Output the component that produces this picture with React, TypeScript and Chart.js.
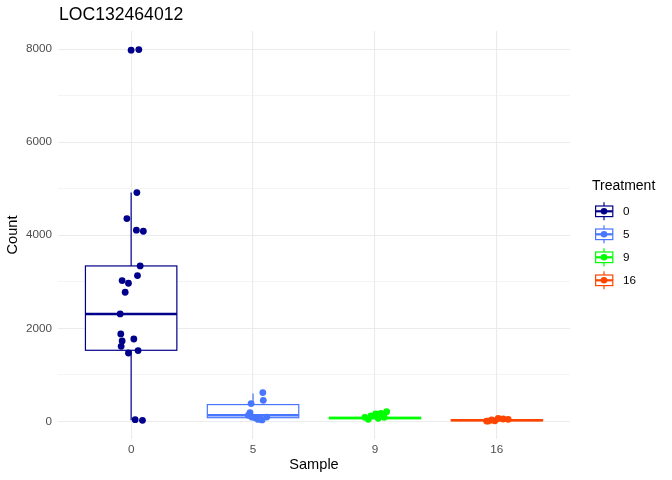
import { useEffect, useRef } from "react";
import { Chart, registerables } from "chart.js";

Chart.register(...registerables);

const chartTitle = "LOC132464012";
const xTitle = "Sample";
const yTitle = "Count";
const legendTitle = "Treatment";
const samples = ["0", "5", "9", "16"];
const treatments = ["0", "5", "9", "16"];
const colors = ["#00008B", "#4876FF", "#00FF00", "#FF4500"];

const yMajorTicks = [0, 2000, 4000, 6000, 8000];
const yAllTicks = [0, 1000, 2000, 3000, 4000, 5000, 6000, 7000, 8000];

// box statistics per sample
const q1 = [1527, 78, 58, 14];
const medians = [2308, 130, 70, 24];
const q3 = [3340, 360, 84, 34];
const whiskerLow = [21, 30, 43, 5];
const whiskerHigh = [4918, 600, 100, 50];
const outliers0 = [7978];

// jittered observations
const counts0 = [7990, 4918, 4359, 4108, 4086, 3340, 3133, 3025, 2968, 2774, 2308, 1878, 1770, 1727, 1613, 1520, 1469, 36, 21];
const jitter0 = [0.063, 0.047, -0.035, 0.043, 0.1, 0.074, 0.052, -0.074, -0.022, -0.049, -0.09, -0.085, 0.022, -0.074, -0.082, 0.057, -0.022, 0.033, 0.093];
const counts5 = [617, 452, 381, 187, 129, 92, 58, 75, 92, 40, 30];
const jitter5 = [0.08, 0.084, -0.016, -0.025, -0.039, -0.011, 0.057, 0.016, 0.112, 0.041, 0.074];
const counts9 = [86, 114, 157, 172, 208, 86, 43, 65];
const jitter9 = [-0.082, -0.033, 0.006, 0.049, 0.096, 0.076, -0.055, 0.027];
const counts16 = [6, 28, 65, 50, 43, 5, 10];
const jitter16 = [-0.084, -0.043, 0.011, 0.052, 0.093, -0.071, -0.016];

const groupCounts = [counts0, counts5, counts9, counts16];
const groupJitter = [jitter0, jitter5, jitter9, jitter16];

const FONT = "'Liberation Sans', Arial, sans-serif";

const boxPlugin = {
  id: "boxes",
  beforeDatasetsDraw(chart: any) {
    const { ctx, scales } = chart;
    const xs = scales.x;
    const ys = scales.y;
    ctx.save();
    for (let i = 0; i < samples.length; i++) {
      const cx = xs.getPixelForValue(i + 1);
      const left = xs.getPixelForValue(i + 1 - 0.375);
      const right = xs.getPixelForValue(i + 1 + 0.375);
      const top = ys.getPixelForValue(q3[i]);
      const bot = ys.getPixelForValue(q1[i]);
      const med = ys.getPixelForValue(medians[i]);
      ctx.strokeStyle = colors[i];
      ctx.lineWidth = 1.2;
      ctx.beginPath();
      ctx.moveTo(cx, top);
      ctx.lineTo(cx, ys.getPixelForValue(whiskerHigh[i]));
      ctx.moveTo(cx, bot);
      ctx.lineTo(cx, ys.getPixelForValue(whiskerLow[i]));
      ctx.stroke();
      ctx.fillStyle = "#FFFFFF";
      ctx.fillRect(left, top, right - left, bot - top);
      ctx.strokeRect(left, top, right - left, bot - top);
      ctx.lineWidth = 2.4;
      ctx.beginPath();
      ctx.moveTo(left, med);
      ctx.lineTo(right, med);
      ctx.stroke();
    }
    ctx.restore();
  },
  afterDraw(chart: any) {
    const { ctx } = chart;
    ctx.save();
    // title
    ctx.fillStyle = "#000000";
    ctx.font = `17.6px ${FONT}`;
    ctx.textBaseline = "alphabetic";
    ctx.textAlign = "left";
    ctx.fillText(chartTitle, 59, 20);
    // legend
    ctx.font = `14px ${FONT}`;
    ctx.textBaseline = "middle";
    ctx.fillText(legendTitle, 592, 186);
    for (let i = 0; i < treatments.length; i++) {
      const cy = 211.3 + i * 23;
      const cx = 604;
      ctx.strokeStyle = colors[i];
      ctx.lineWidth = 1.2;
      ctx.beginPath();
      ctx.moveTo(cx, cy - 9);
      ctx.lineTo(cx, cy - 5.3);
      ctx.moveTo(cx, cy + 5.3);
      ctx.lineTo(cx, cy + 9);
      ctx.stroke();
      ctx.fillStyle = "#FFFFFF";
      ctx.fillRect(595.6, cy - 5.3, 17.2, 10.6);
      ctx.strokeRect(595.6, cy - 5.3, 17.2, 10.6);
      ctx.lineWidth = 2.2;
      ctx.beginPath();
      ctx.moveTo(595.6, cy);
      ctx.lineTo(612.8, cy);
      ctx.stroke();
      ctx.fillStyle = colors[i];
      ctx.beginPath();
      ctx.arc(cx, cy, 3.3, 0, Math.PI * 2);
      ctx.fill();
      ctx.fillStyle = "#000000";
      ctx.font = `11.7px ${FONT}`;
      ctx.fillText(treatments[i], 623, cy + 0.5);
    }
    ctx.restore();
  },
};

export default function App() {
  const ref = useRef<HTMLCanvasElement | null>(null);
  useEffect(() => {
    document.body.style.margin = "0";
    if (!ref.current) return;
    const datasets: any[] = groupCounts.map((counts, i) => ({
      label: treatments[i],
      data: counts.map((v, j) => ({ x: i + 1 + groupJitter[i][j], y: v })),
      backgroundColor: colors[i],
      borderWidth: 0,
      pointRadius: 3.4,
    }));
    datasets.unshift({
      label: "outliers",
      data: outliers0.map((v) => ({ x: 1, y: v })),
      backgroundColor: colors[0],
      borderWidth: 0,
      pointRadius: 3.4,
    });
    const chart = new Chart(ref.current, {
      type: "scatter",
      data: { datasets },
      plugins: [boxPlugin],
      options: {
        animation: false,
        responsive: false,
        layout: { padding: { top: 31, right: 102, left: 0, bottom: 0 } },
        plugins: { legend: { display: false }, tooltip: { enabled: false }, title: { display: false } },
        scales: {
          x: {
            type: "linear",
            min: 0.4,
            max: 4.6,
            afterBuildTicks: (s: any) => {
              s.ticks = samples.map((_, i) => ({ value: i + 1 }));
            },
            afterFit: (s: any) => {
              s.height = 41;
            },
            ticks: {
              callback: (v: any) => samples[Math.round(Number(v)) - 1] ?? "",
              color: "#4D4D4D",
              font: { family: FONT, size: 11.7 },
              padding: 4,
              maxRotation: 0,
            },
            grid: { color: "#EBEBEB", lineWidth: 1.1, drawTicks: false },
            border: { display: false },
            title: {
              display: true,
              text: xTitle,
              color: "#000000",
              font: { family: FONT, size: 14.6 },
              padding: { top: 0, bottom: 6 },
            },
          },
          y: {
            type: "linear",
            min: -380,
            max: 8390,
            afterBuildTicks: (s: any) => {
              s.ticks = yAllTicks.map((v) => ({ value: v }));
            },
            afterFit: (s: any) => {
              s.width = 58;
            },
            ticks: {
              callback: (v: any) => (yMajorTicks.includes(Number(v)) ? String(v) : ""),
              color: "#4D4D4D",
              font: { family: FONT, size: 11.7 },
              padding: 6,
            },
            grid: {
              color: "#EBEBEB",
              lineWidth: (c: any) => (yMajorTicks.includes(c.tick?.value) ? 1.1 : 0.55),
              drawTicks: false,
            },
            border: { display: false },
            title: {
              display: true,
              text: yTitle,
              color: "#000000",
              font: { family: FONT, size: 14.6 },
              padding: { top: 4, bottom: 4 },
            },
          },
        },
      },
    });
    return () => chart.destroy();
  }, []);
  return (
    <div style={{ width: 672, height: 480 }}>
      <canvas ref={ref} width={672} height={480} />
    </div>
  );
}
